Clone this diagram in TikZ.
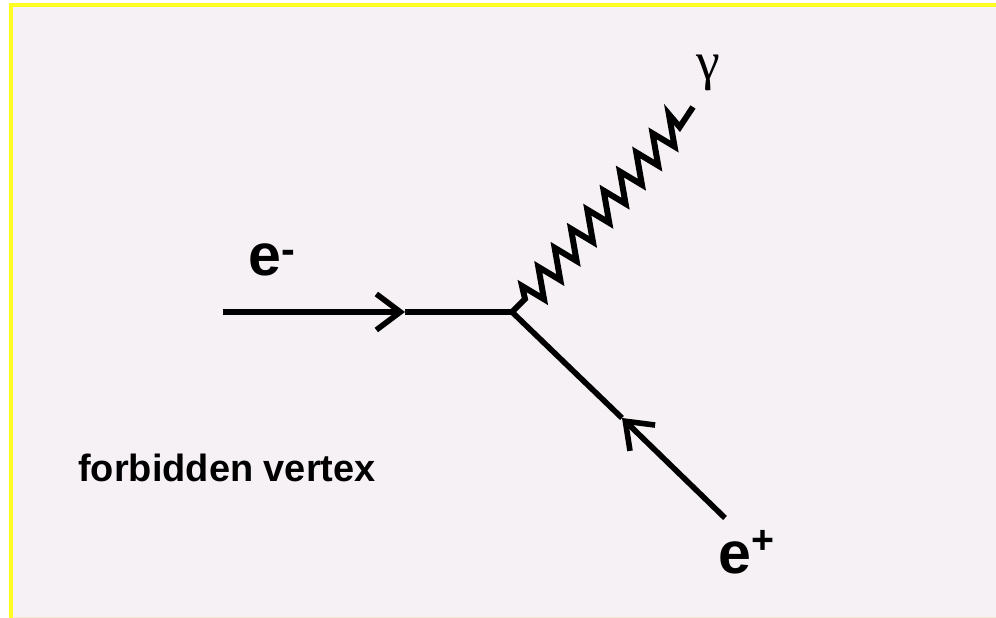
\documentclass[tikz,border=0pt]{standalone}
\usepackage{xcolor}
\usepackage{fontspec}
\setmainfont{Liberation Sans}
\newfontfamily\gammafont{Liberation Serif}
\usepackage{tikz}
\usetikzlibrary{arrows.meta}

\definecolor{paper}{HTML}{F5F1F5}
\definecolor{frame}{HTML}{FFFF22}
\definecolor{edge}{HTML}{F0EBD0}

\tikzset{
    fermion/.style={line width=0.14cm},
    barbed/.style={fermion, -{Straight Barb[length=0.6cm, width=0.9cm]}},
    photon/.style={line width=0.15cm, miter limit=6},
    bigtext/.style={inner sep=0pt, anchor=base west, font=\fontsize{42}{42}\selectfont\bfseries},
    note/.style={inner sep=0pt, anchor=base west, font=\fontsize{27}{30}\selectfont\bfseries}
}

\begin{document}
\begin{tikzpicture}
    \useasboundingbox (0, 0) rectangle (24.9, 15.45);

    % background
    \fill[white] (0, 0) rectangle (24.9, 15.45);
    \fill[frame] (0.225, 0) rectangle (24.9, 15.375);
    \fill[edge] (0.325, 0) rectangle (24.9, 0.025);
    \fill[paper] (0.325, 0.025) rectangle (24.9, 15.275);

    \coordinate (vertex) at (12.8, 7.65);
    \coordinate (ein) at (5.575, 7.65);
    \coordinate (emid) at (10.125, 7.65);
    \coordinate (pin) at (18.125, 2.5);
    \coordinate (pmid) at (15.55, 5);
    \coordinate (gneck) at (13.125, 7.975);
    \coordinate (gstart) at (13.05, 8.3);
    \coordinate (gend) at (17.325, 12.775);

    % edges
    \draw[barbed] (ein) -- (emid);
    \draw[fermion] (emid) -- (vertex);
    \draw[barbed] (pin) -- (pmid);
    \draw[fermion] (pmid) -- (vertex);

    % photon
    \draw[photon] (vertex) -- (gneck) -- (gstart)
        \foreach \i in {1,...,9} { -- ++(0.55, -0.33) -- ++(-0.142, 0.807) }
        -- ++(0.27, -0.32) -- (gend);

    % labels
    \node[bigtext] at (6.2, 8.55) (elabel) {e\textsuperscript{-}};
    \node[bigtext] at (17.95, 1.1) (plabel) {e\raisebox{0.5cm}{\fontsize{28}{28}\selectfont +}};
    \node[inner sep=0pt, anchor=base west, font=\fontsize{38}{38}\selectfont\gammafont] at (17.4, 13.45) (glabel) {γ};
    \node[note] at (1.95, 3.41) (forbidden) {forbidden vertex};
\end{tikzpicture}
\end{document}
